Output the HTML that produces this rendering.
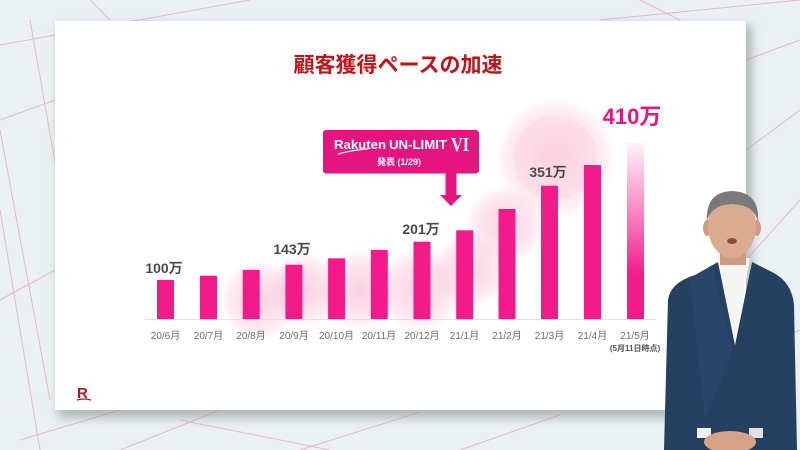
<!DOCTYPE html>
<html><head><meta charset="utf-8"><style>
html,body{margin:0;padding:0;width:800px;height:450px;overflow:hidden;background:#e9f1f3}
svg{display:block}
text{font-family:"Liberation Sans","Noto Sans CJK JP",sans-serif}
text.serif{font-family:"Liberation Serif","Noto Serif CJK SC",serif}
</style></head><body>
<svg width="800" height="450" viewBox="0 0 800 450" xmlns="http://www.w3.org/2000/svg">
<defs>
<radialGradient id="pc" cx="50%" cy="50%" r="50%">
<stop offset="0" stop-color="#f8b0cc" stop-opacity="0.6"/>
<stop offset="0.6" stop-color="#f9c2d7" stop-opacity="0.45"/>
<stop offset="0.8" stop-color="#fbd3e2" stop-opacity="0.38"/>
<stop offset="1" stop-color="#fde4ee" stop-opacity="0"/>
</radialGradient>
<linearGradient id="fade" x1="0" y1="0" x2="0" y2="1">
<stop offset="0" stop-color="#f41a8a" stop-opacity="0.05"/>
<stop offset="0.45" stop-color="#f41a8a" stop-opacity="0.6"/>
<stop offset="0.75" stop-color="#f41a8a" stop-opacity="1"/>
<stop offset="1" stop-color="#f41a8a"/>
</linearGradient>
<filter id="blur" x="-10%" y="-10%" width="120%" height="130%"><feGaussianBlur stdDeviation="5"/></filter>
</defs>
<rect width="800" height="450" fill="#e9f1f3"/>
<g stroke="#eaa6c4" stroke-width="1" fill="none" opacity="0.8">
<line x1="0" y1="45" x2="250" y2="0"/><line x1="30" y1="20" x2="60" y2="190"/>
<line x1="0" y1="120" x2="55" y2="100"/><line x1="0" y1="130" x2="50" y2="400"/>
<line x1="0" y1="300" x2="55" y2="270"/><line x1="20" y1="440" x2="120" y2="410"/>
<line x1="120" y1="450" x2="220" y2="410"/><line x1="300" y1="450" x2="420" y2="412"/>
<line x1="460" y1="450" x2="560" y2="415"/><line x1="90" y1="0" x2="110" y2="20"/>
<line x1="600" y1="20" x2="800" y2="0"/><line x1="746" y1="60" x2="800" y2="40"/>
<line x1="746" y1="150" x2="800" y2="110"/><line x1="746" y1="350" x2="800" y2="330"/>
<line x1="746" y1="260" x2="800" y2="200"/><line x1="640" y1="0" x2="680" y2="20"/>
<line x1="0" y1="210" x2="40" y2="450"/><line x1="180" y1="420" x2="330" y2="450"/>
</g>
<rect x="58" y="25" width="694" height="393" fill="#8a9296" opacity="0.6" filter="url(#blur)"/>
<rect x="55" y="21" width="691" height="389" fill="#ffffff"/>
<!-- pink circles -->
<circle cx="555" cy="158" r="62" fill="url(#pc)"/>
<circle cx="555" cy="158" r="42" fill="#fbd0e0" opacity="0.35"/>
<circle cx="505" cy="225" r="40" fill="url(#pc)"/>
<circle cx="470" cy="270" r="38" fill="url(#pc)"/>
<circle cx="420" cy="290" r="42" fill="url(#pc)"/>
<circle cx="360" cy="290" r="40" fill="url(#pc)"/>
<circle cx="305" cy="290" r="38" fill="url(#pc)"/>
<circle cx="260" cy="300" r="40" fill="url(#pc)"/>
<!-- title -->
<text x="398" y="72" text-anchor="middle" font-size="21" font-weight="bold" fill="#be1419">顧客獲得ペースの加速</text>
<!-- baseline -->
<line x1="145" y1="319.5" x2="656" y2="319.5" stroke="#e2e2e2" stroke-width="1"/>
<!-- bars -->
<g fill="#f41a8a">
<rect x="157" y="280" width="17" height="39"/>
<rect x="200" y="275.7" width="17" height="43.3"/>
<rect x="242.7" y="270" width="17" height="49"/>
<rect x="285.4" y="264.7" width="17" height="54.3"/>
<rect x="328.1" y="258.3" width="17" height="60.7"/>
<rect x="370.8" y="250" width="17" height="69"/>
<rect x="413.5" y="241.7" width="17" height="77.3"/>
<rect x="456.2" y="230.3" width="17" height="88.7"/>
<rect x="498.5" y="209" width="17" height="110"/>
<rect x="541" y="185.7" width="17" height="133.3"/>
<rect x="584" y="165" width="17" height="154"/>
</g>
<rect x="627" y="143" width="17" height="176" fill="url(#fade)"/>
<!-- value labels -->
<g font-size="14" font-weight="bold" fill="#4a4a4a" text-anchor="middle">
<text x="164" y="273">100万</text>
<text x="292" y="254">143万</text>
<text x="421" y="234">201万</text>
<text x="548" y="177">351万</text>
</g>
<text x="632" y="124" text-anchor="middle" font-size="22" font-weight="bold" fill="#e5157f">410万</text>
<!-- axis labels -->
<g font-size="10" fill="#6e6e6e" text-anchor="middle">
<text x="165.5" y="339">20/6月</text>
<text x="208.5" y="339">20/7月</text>
<text x="251" y="339">20/8月</text>
<text x="294" y="339">20/9月</text>
<text x="336.5" y="339">20/10月</text>
<text x="379" y="339">20/11月</text>
<text x="422" y="339">20/12月</text>
<text x="464.5" y="339">21/1月</text>
<text x="507" y="339">21/2月</text>
<text x="549.5" y="339">21/3月</text>
<text x="592.5" y="339">21/4月</text>
<text x="635" y="339">21/5月</text>
</g>
<text x="635" y="351" text-anchor="middle" font-size="8" font-weight="bold" fill="#555">(5月11日時点)</text>
<!-- callout -->
<rect x="323" y="130" width="156" height="43.5" rx="3" fill="#e5157f"/>
<text x="334" y="149" font-size="13" font-weight="bold" fill="#fff" textLength="52" lengthAdjust="spacingAndGlyphs">Rakuten</text>
<path d="M338 154 Q352 150 368 149" stroke="#fff" stroke-width="1.2" fill="none"/>
<text x="389" y="149" font-size="12.5" font-weight="bold" fill="#fff" textLength="58" lengthAdjust="spacingAndGlyphs">UN-LIMIT</text>
<text class="serif" x="451" y="151" font-size="20" font-weight="bold" fill="#fff" textLength="18" lengthAdjust="spacingAndGlyphs">VI</text>
<text x="399" y="165" text-anchor="middle" font-size="9" font-weight="bold" fill="#fff">発表 (1/29)</text>
<rect x="445.5" y="173" width="11" height="22.5" fill="#e5157f"/>
<polygon points="440,195 462,195 451,206" fill="#e5157f"/>
<!-- R logo -->
<text x="77" y="398" font-size="15" font-weight="bold" fill="#b5141c">R</text>
<path d="M77 400 Q84 398 91 400" stroke="#b5141c" stroke-width="1.3" fill="none"/>
<!-- person -->
<g>
<path d="M668 300 Q670 283 695 275 L718 262 L735 345 L752 262 L772 272 Q792 282 794 305 L797 450 L664 450 Z" fill="#26405f"/>
<path d="M690 280 L712 265 L733 350 L705 420 Z" fill="#2d4a6c" opacity="0.6"/>
<polygon points="718,258 750,258 735,345" fill="#f4f4f2"/>
<rect x="720" y="245" width="26" height="20" fill="#cf9c80"/>
<ellipse cx="707" cy="228" rx="4" ry="8" fill="#cf9c80"/>
<ellipse cx="757" cy="228" rx="4" ry="8" fill="#cf9c80"/>
<ellipse cx="732" cy="226" rx="24" ry="32" fill="#dcab8e"/>
<path d="M707 222 Q705 192 732 191 Q760 192 758 222 Q755 205 732 204 Q710 205 707 222 Z" fill="#7a7a7a"/>
<ellipse cx="732" cy="241" rx="5" ry="3" fill="#8a4a44"/>
<rect x="697" y="428" width="14" height="10" fill="#f2f2f2"/>
<rect x="749" y="428" width="14" height="10" fill="#e0e0e0"/>
<ellipse cx="730" cy="442" rx="26" ry="11" fill="#d6a387"/>
</g>
</svg>
</body></html>
